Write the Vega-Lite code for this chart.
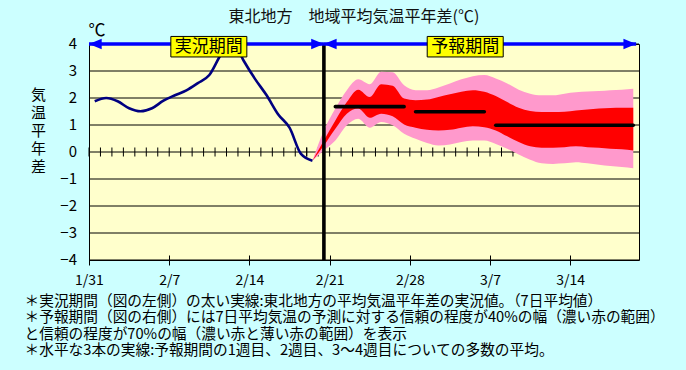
{
  "$schema": "https://vega.github.io/schema/vega-lite/v6.json",
  "width": 550,
  "height": 216,
  "autosize": {"type": "none"},
  "padding": {"left": 89, "top": 44, "right": 47, "bottom": 110},
  "background": "#CCFFFF",
  "config": {
    "view": {"fill": "#FFFFCC", "stroke": "#000000", "strokeWidth": 1},
    "font": "Noto Sans CJK JP",
    "axis": {"labelFont": "Noto Sans CJK JP", "titleFont": "Noto Sans CJK JP"}
  },
  "title": {
    "text": "東北地方　地域平均気温平年差(℃)",
    "font": "Noto Sans CJK JP",
    "fontSize": 16,
    "fontWeight": "normal",
    "color": "#111111",
    "anchor": "middle",
    "frame": "group",
    "dx": -10,
    "offset": -3
  },
  "datasets": {
    "levels": [
      {"level": -4}, {"level": -3}, {"level": -2}, {"level": -1}, {"level": 0},
      {"level": 1}, {"level": 2}, {"level": 3}, {"level": 4}
    ],
    "obs": [
      {"date": "2021-01-31", "anomaly": 1.88},
      {"date": "2021-02-01", "anomaly": 2.0},
      {"date": "2021-02-02", "anomaly": 1.88},
      {"date": "2021-02-03", "anomaly": 1.62},
      {"date": "2021-02-04", "anomaly": 1.51},
      {"date": "2021-02-05", "anomaly": 1.62},
      {"date": "2021-02-06", "anomaly": 1.9},
      {"date": "2021-02-07", "anomaly": 2.1},
      {"date": "2021-02-08", "anomaly": 2.28},
      {"date": "2021-02-09", "anomaly": 2.55},
      {"date": "2021-02-10", "anomaly": 2.85},
      {"date": "2021-02-11", "anomaly": 3.6},
      {"date": "2021-02-12", "anomaly": 4.15},
      {"date": "2021-02-13", "anomaly": 3.38},
      {"date": "2021-02-14", "anomaly": 2.7},
      {"date": "2021-02-15", "anomaly": 2.1},
      {"date": "2021-02-16", "anomaly": 1.4},
      {"date": "2021-02-17", "anomaly": 0.9},
      {"date": "2021-02-18", "anomaly": -0.07},
      {"date": "2021-02-19", "anomaly": -0.32}
    ],
    "forecast": [
      {"date": "2021-02-19", "p70_lo": -0.32, "p40_lo": -0.32, "p40_hi": -0.32, "p70_hi": -0.32},
      {"date": "2021-02-20", "p70_lo": 0.06, "p40_lo": 0.24, "p40_hi": 0.43, "p70_hi": 0.8},
      {"date": "2021-02-21", "p70_lo": 0.43, "p40_lo": 0.86, "p40_hi": 1.17, "p70_hi": 1.61},
      {"date": "2021-02-22", "p70_lo": 0.99, "p40_lo": 1.42, "p40_hi": 1.85, "p70_hi": 2.29},
      {"date": "2021-02-23", "p70_lo": 1.23, "p40_lo": 1.61, "p40_hi": 2.31, "p70_hi": 2.69},
      {"date": "2021-02-24", "p70_lo": 0.9, "p40_lo": 1.27, "p40_hi": 2.04, "p70_hi": 2.51},
      {"date": "2021-02-25", "p70_lo": 1.11, "p40_lo": 1.42, "p40_hi": 2.51, "p70_hi": 2.97},
      {"date": "2021-02-26", "p70_lo": 0.99, "p40_lo": 1.32, "p40_hi": 2.45, "p70_hi": 2.95},
      {"date": "2021-02-27", "p70_lo": 0.68, "p40_lo": 1.02, "p40_hi": 1.98, "p70_hi": 2.47},
      {"date": "2021-02-28", "p70_lo": 0.49, "p40_lo": 0.9, "p40_hi": 1.92, "p70_hi": 2.29},
      {"date": "2021-03-01", "p70_lo": 0.33, "p40_lo": 0.82, "p40_hi": 1.94, "p70_hi": 2.29},
      {"date": "2021-03-02", "p70_lo": 0.24, "p40_lo": 0.8, "p40_hi": 2.04, "p70_hi": 2.39},
      {"date": "2021-03-03", "p70_lo": 0.28, "p40_lo": 0.82, "p40_hi": 2.14, "p70_hi": 2.54},
      {"date": "2021-03-04", "p70_lo": 0.37, "p40_lo": 0.9, "p40_hi": 2.23, "p70_hi": 2.69},
      {"date": "2021-03-05", "p70_lo": 0.43, "p40_lo": 0.95, "p40_hi": 2.29, "p70_hi": 2.81},
      {"date": "2021-03-06", "p70_lo": 0.43, "p40_lo": 0.92, "p40_hi": 2.23, "p70_hi": 2.85},
      {"date": "2021-03-07", "p70_lo": 0.3, "p40_lo": 0.8, "p40_hi": 2.07, "p70_hi": 2.72},
      {"date": "2021-03-08", "p70_lo": 0.12, "p40_lo": 0.58, "p40_hi": 1.85, "p70_hi": 2.54},
      {"date": "2021-03-09", "p70_lo": -0.09, "p40_lo": 0.37, "p40_hi": 1.64, "p70_hi": 2.31},
      {"date": "2021-03-10", "p70_lo": -0.29, "p40_lo": 0.21, "p40_hi": 1.52, "p70_hi": 2.16},
      {"date": "2021-03-11", "p70_lo": -0.42, "p40_lo": 0.16, "p40_hi": 1.48, "p70_hi": 2.1},
      {"date": "2021-03-12", "p70_lo": -0.44, "p40_lo": 0.16, "p40_hi": 1.48, "p70_hi": 2.1},
      {"date": "2021-03-13", "p70_lo": -0.42, "p40_lo": 0.18, "p40_hi": 1.49, "p70_hi": 2.16},
      {"date": "2021-03-14", "p70_lo": -0.38, "p40_lo": 0.21, "p40_hi": 1.54, "p70_hi": 2.21},
      {"date": "2021-03-15", "p70_lo": -0.42, "p40_lo": 0.18, "p40_hi": 1.57, "p70_hi": 2.24},
      {"date": "2021-03-16", "p70_lo": -0.47, "p40_lo": 0.16, "p40_hi": 1.61, "p70_hi": 2.26},
      {"date": "2021-03-17", "p70_lo": -0.52, "p40_lo": 0.12, "p40_hi": 1.63, "p70_hi": 2.29},
      {"date": "2021-03-18", "p70_lo": -0.56, "p40_lo": 0.1, "p40_hi": 1.64, "p70_hi": 2.31},
      {"date": "2021-03-19", "p70_lo": -0.6, "p40_lo": 0.06, "p40_hi": 1.64, "p70_hi": 2.34}
    ],
    "weekly": [
      {"period": "1週目", "date": "2021-02-21", "mean": 1.68},
      {"period": "1週目", "date": "2021-02-27", "mean": 1.68},
      {"period": "2週目", "date": "2021-02-28", "mean": 1.49},
      {"period": "2週目", "date": "2021-03-06", "mean": 1.49},
      {"period": "3〜4週目", "date": "2021-03-07", "mean": 0.99},
      {"period": "3〜4週目", "date": "2021-03-19", "mean": 0.99}
    ],
    "boundary": [{"date": "2021-02-20"}],
    "arrows": [
      {"period": "実況期間", "start": "2021-01-31T00:00:00Z", "end": "2021-02-20T12:00:00Z"},
      {"period": "予報期間", "start": "2021-02-20T12:00:00Z", "end": "2021-03-19T18:00:00Z"}
    ],
    "notes": [
      {"text": "実況期間", "date": "2021-02-10T11:00:00Z", "value": 3.9},
      {"text": "予報期間", "date": "2021-03-04T20:00:00Z", "value": 3.9},
      {"text": "℃", "date": "2021-01-31T17:00:00Z", "value": 4.5}
    ]
  },
  "layer": [
    {
      "data": {"name": "levels"},
      "mark": {"type": "rule", "color": "#000000", "strokeWidth": 1},
      "encoding": {
        "y": {
          "field": "level", "type": "quantitative",
          "scale": {"domain": [-4, 4], "nice": false},
          "axis": {
            "grid": false, "labels": false, "domain": false, "ticks": false,
            "title": ["気", "温", "平", "年", "差"],
            "titleAngle": 0, "titleAlign": "center", "titleBaseline": "top",
            "titleX": -51, "titleY": 43, "titleFontSize": 15, "titleFontWeight": "normal",
            "titleLineHeight": 18, "titleColor": "#000000"
          }
        }
      }
    },
    {
      "data": {"name": "levels"},
      "mark": {"type": "text", "font": "Noto Sans CJK JP", "fontSize": 15, "color": "#000000", "align": "right", "baseline": "middle", "dx": -12},
      "encoding": {
        "x": {"datum": {"year": 2021, "month": 1, "date": 31, "utc": true}, "type": "temporal"},
        "y": {"field": "level", "type": "quantitative"},
        "text": {"field": "level", "type": "quantitative", "format": "d"}
      }
    },
    {
      "data": {"name": "obs"},
      "mark": {"type": "rule", "color": "#000000", "strokeWidth": 1},
      "encoding": {
        "x": {
          "field": "date", "type": "temporal", "timeUnit": "utcyearmonthdate", "bandPosition": 0,
          "scale": {"type": "utc", "domain": [{"year": 2021, "month": 1, "date": 31, "utc": true}, {"year": 2021, "month": 3, "date": 20, "utc": true}], "nice": false},
          "axis": {
            "orient": "bottom", "offset": -5, "domain": false, "grid": false,
            "ticks": true, "tickSize": 10, "tickColor": "#000000", "tickWidth": 1, "tickOpacity": 1,
            "tickCount": {"interval": "week", "step": 1},
            "labelExpr": "utcFormat(datum.value, '%-m/%-d')",
            "labelFontSize": 14, "labelColor": "#000000", "labelPadding": 8, "labelBaseline": "top",
            "labelFlush": false, "labelOverlap": false, "labelDx": 3,
            "title": [
              "＊実況期間（図の左側）の太い実線:東北地方の平均気温平年差の実況値。（7日平均値）",
              "＊予報期間（図の右側）には7日平均気温の予測に対する信頼の程度が40%の幅（濃い赤の範囲）",
              "　と信頼の程度が70%の幅（濃い赤と薄い赤の範囲）を表示",
              "＊水平な3本の実線:予報期間の1週目、2週目、3〜4週目についての多数の平均。"
            ],
            "titleX": -65, "titleY": 38, "titleAlign": "left", "titleAnchor": "start", "titleBaseline": "top",
            "titleFontSize": 14.7, "titleFontWeight": "normal", "titleLineHeight": 16.5, "titleColor": "#000000"
          }
        },
        "y": {"datum": 0.167, "type": "quantitative"},
        "y2": {"datum": -0.167}
      }
    },
    {
      "data": {"name": "forecast"},
      "mark": {"type": "rule", "color": "#000000", "strokeWidth": 1},
      "encoding": {
        "x": {"field": "date", "type": "temporal", "timeUnit": "utcyearmonthdate", "bandPosition": 0},
        "y": {"datum": 0.167, "type": "quantitative"},
        "y2": {"datum": -0.167}
      }
    },
    {
      "data": {"name": "forecast"},
      "mark": {"type": "area", "color": "#FF99CC", "interpolate": "monotone", "opacity": 1},
      "encoding": {
        "x": {"field": "date", "type": "temporal", "timeUnit": "utcyearmonthdate", "bandPosition": 0.5},
        "y": {"field": "p70_lo", "type": "quantitative"},
        "y2": {"field": "p70_hi"}
      }
    },
    {
      "data": {"name": "forecast"},
      "mark": {"type": "area", "color": "#FF0000", "interpolate": "monotone", "opacity": 1},
      "encoding": {
        "x": {"field": "date", "type": "temporal", "timeUnit": "utcyearmonthdate", "bandPosition": 0.5},
        "y": {"field": "p40_lo", "type": "quantitative"},
        "y2": {"field": "p40_hi"}
      }
    },
    {
      "data": {"name": "obs"},
      "mark": {"type": "line", "color": "#000080", "strokeWidth": 2.6, "interpolate": "monotone", "clip": true},
      "encoding": {
        "x": {"field": "date", "type": "temporal", "timeUnit": "utcyearmonthdate", "bandPosition": 0.5},
        "y": {"field": "anomaly", "type": "quantitative"}
      }
    },
    {
      "data": {"name": "weekly"},
      "mark": {"type": "line", "color": "#000000", "strokeWidth": 3.6, "strokeCap": "round"},
      "encoding": {
        "x": {"field": "date", "type": "temporal", "timeUnit": "utcyearmonthdate", "bandPosition": 0.5},
        "y": {"field": "mean", "type": "quantitative"},
        "detail": {"field": "period", "type": "nominal"}
      }
    },
    {
      "data": {"name": "boundary"},
      "mark": {"type": "rule", "color": "#000000", "strokeWidth": 3.6},
      "encoding": {
        "x": {"field": "date", "type": "temporal", "timeUnit": "utcyearmonthdate", "bandPosition": 0.5},
        "y": {"datum": 4, "type": "quantitative"},
        "y2": {"datum": -4}
      }
    },
    {
      "data": {"name": "arrows"},
      "mark": {"type": "rule", "color": "#0000FF", "strokeWidth": 3.5},
      "encoding": {
        "x": {"field": "start", "type": "temporal"},
        "x2": {"field": "end"},
        "y": {"datum": 4, "type": "quantitative"}
      }
    },
    {
      "data": {"name": "arrows"},
      "mark": {"type": "point", "shape": "M0,0L1,-0.42L1,0.42Z", "size": 645, "filled": true, "color": "#0000FF", "opacity": 1},
      "encoding": {
        "x": {"field": "start", "type": "temporal"},
        "y": {"datum": 4, "type": "quantitative"}
      }
    },
    {
      "data": {"name": "arrows"},
      "mark": {"type": "point", "shape": "M0,0L-1,-0.42L-1,0.42Z", "size": 645, "filled": true, "color": "#0000FF", "opacity": 1},
      "encoding": {
        "x": {"field": "end", "type": "temporal"},
        "y": {"datum": 4, "type": "quantitative"}
      }
    },
    {
      "data": {"name": "notes"},
      "transform": [{"filter": "datum.text !== '℃'"}],
      "mark": {"type": "point", "shape": "M-1,-0.27L1,-0.27L1,0.27L-1,0.27Z", "size": 5776, "filled": true, "fill": "#FFFF00", "stroke": "#000000", "strokeWidth": 1, "opacity": 1},
      "encoding": {
        "x": {"field": "date", "type": "temporal"},
        "y": {"field": "value", "type": "quantitative"}
      }
    },
    {
      "data": {"name": "notes"},
      "mark": {"type": "text", "font": "Noto Sans CJK JP", "fontSize": 17, "color": "#000000", "align": "center", "baseline": "middle"},
      "encoding": {
        "x": {"field": "date", "type": "temporal"},
        "y": {"field": "value", "type": "quantitative"},
        "text": {"field": "text", "type": "nominal"}
      }
    }
  ]
}
